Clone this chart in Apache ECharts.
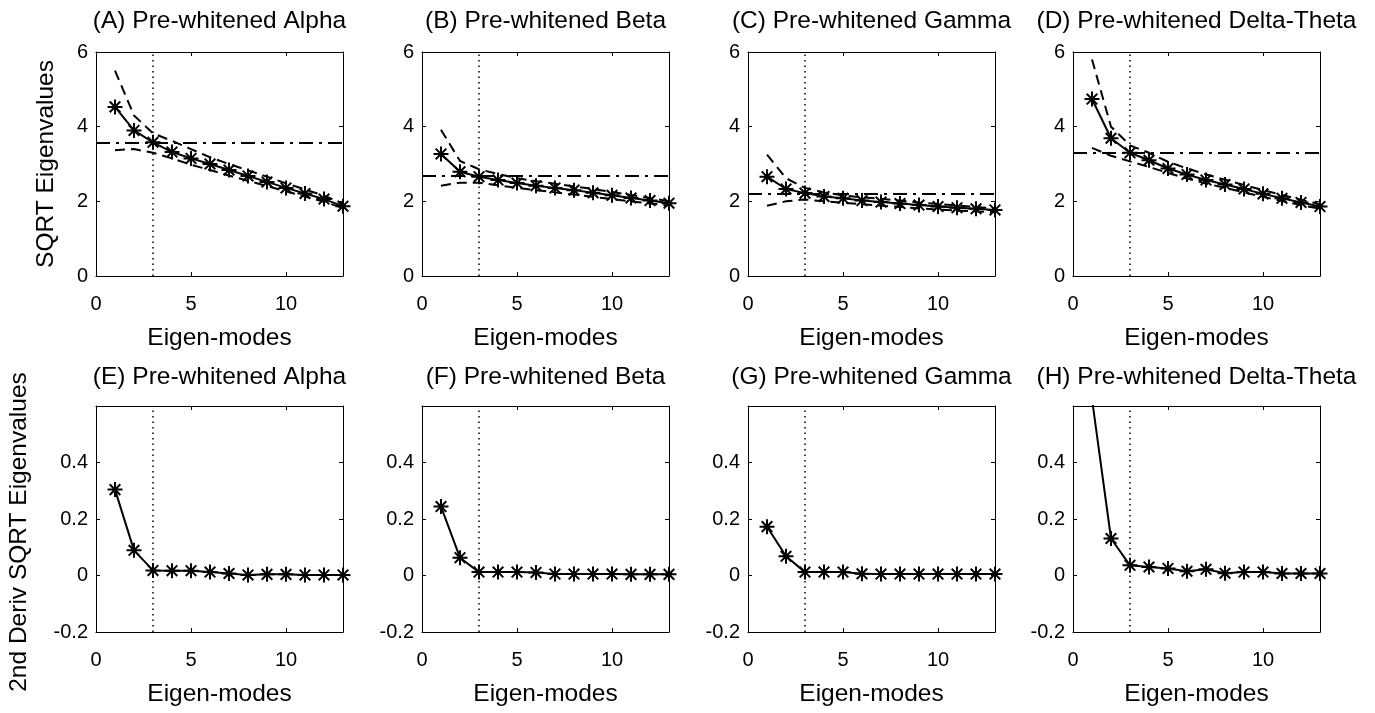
<!DOCTYPE html>
<html>
<head>
<meta charset="utf-8">
<script src="https://cdn.jsdelivr.net/npm/echarts@6/dist/echarts.min.js"></script>
<style>
html,body{margin:0;padding:0;background:#fff;}
#chart{width:1375px;height:713px;}
</style>
</head>
<body>
<div id="chart"></div>
<script>
// ---------- data ----------
const modes = [1,2,3,4,5,6,7,8,9,10,11,12,13];
const xTicks = [0,5,10];
const topYTicks = [0,2,4,6];
const bottomYTicks = [-0.2,0,0.2,0.4];

const topTitles = ['(A) Pre-whitened Alpha','(B) Pre-whitened Beta','(C) Pre-whitened Gamma','(D) Pre-whitened Delta-Theta'];
const bottomTitles = ['(E) Pre-whitened Alpha','(F) Pre-whitened Beta','(G) Pre-whitened Gamma','(H) Pre-whitened Delta-Theta'];

const alphaEig  = [4.53,3.90,3.58,3.32,3.15,3.00,2.84,2.68,2.52,2.36,2.21,2.06,1.87];
const alphaUp   = [5.50,4.30,3.82,3.62,3.40,3.18,3.00,2.83,2.66,2.48,2.32,2.15,1.94];
const alphaLow  = [3.37,3.40,3.30,3.15,2.98,2.84,2.69,2.55,2.41,2.27,2.13,1.99,1.82];

const betaEig   = [3.27,2.79,2.66,2.57,2.49,2.42,2.36,2.30,2.23,2.16,2.09,2.02,1.95];
const betaUp    = [3.92,3.08,2.86,2.73,2.62,2.54,2.47,2.40,2.33,2.25,2.17,2.09,2.00];
const betaLow   = [2.42,2.50,2.50,2.43,2.36,2.30,2.24,2.18,2.12,2.06,2.00,1.94,1.89];

const gammaEig  = [2.66,2.33,2.22,2.13,2.08,2.02,1.98,1.94,1.90,1.86,1.83,1.80,1.77];
const gammaUp   = [3.25,2.62,2.36,2.24,2.16,2.11,2.07,2.02,1.97,1.93,1.89,1.85,1.81];
const gammaLow  = [1.88,2.00,2.05,2.00,1.96,1.92,1.88,1.85,1.81,1.78,1.75,1.73,1.71];

const deltaEig  = [4.74,3.69,3.30,3.10,2.88,2.72,2.57,2.45,2.33,2.20,2.08,1.97,1.86];
const deltaUp   = [5.80,4.00,3.50,3.30,3.06,2.88,2.72,2.58,2.44,2.30,2.17,2.04,1.92];
const deltaLow  = [3.43,3.22,3.07,2.92,2.76,2.61,2.48,2.36,2.24,2.12,2.01,1.90,1.80];

const thresholds = [3.57, 2.68, 2.20, 3.30];
const cutoffModes = [3, 3, 3, 3];

const alphaDeriv = [0.304,0.089,0.018,0.017,0.017,0.012,0.007,0.002,0.004,0.004,0.002,0.002,0.002];
const betaDeriv  = [0.244,0.063,0.012,0.012,0.012,0.011,0.005,0.005,0.005,0.005,0.004,0.004,0.004];
const gammaDeriv = [0.173,0.068,0.012,0.012,0.012,0.006,0.005,0.005,0.005,0.005,0.005,0.005,0.005];
const deltaDeriv = [0.625,0.131,0.036,0.030,0.025,0.015,0.022,0.008,0.012,0.012,0.007,0.007,0.007];

const topMain = [alphaEig, betaEig, gammaEig, deltaEig];
const topUp = [alphaUp, betaUp, gammaUp, deltaUp];
const topLow = [alphaLow, betaLow, gammaLow, deltaLow];
const bottomMain = [alphaDeriv, betaDeriv, gammaDeriv, deltaDeriv];

// ---------- layout ----------
const FONT = '"Liberation Sans", Arial, Helvetica, sans-serif';
const lefts = [96, 422, 748, 1073];
const W = 247;
const rows = [{top: 52, h: 224}, {top: 406, h: 226}];
const star = 'path://M0,-10L0,10M-10,0L10,0M-7.07,-7.07L7.07,7.07M-7.07,7.07L7.07,-7.07';

const grids = [], xAxes = [], yAxes = [], series = [], titles = [];

function pairs(vals){ return modes.map((m,k)=>[m, vals[k]]); }

for (let r = 0; r < 2; r++) {
  for (let c = 0; c < 4; c++) {
    const i = r*4 + c;
    grids.push({left: lefts[c], top: rows[r].top, width: W, height: rows[r].h, containLabel: false});
    titles.push({
      text: r === 0 ? topTitles[c] : bottomTitles[c],
      left: lefts[c] + W/2, top: r === 0 ? 9 : 365, textAlign: 'center', padding: 0,
      textStyle: {fontFamily: FONT, fontSize: 24.5, fontWeight: 'normal', color: '#000'}
    });
    const xMin = xTicks[0], xMax = 13, xInt = xTicks[1]-xTicks[0];
    const yT = r === 0 ? topYTicks : bottomYTicks;
    const yMin = yT[0], yInt = +(yT[1]-yT[0]).toFixed(3), yMax = r === 0 ? 6 : 0.6;
    const common = {
      type: 'value', gridIndex: i, splitLine: {show: false},
      axisLine: {show: true, onZero: false, lineStyle: {color: '#000', width: 1}},
      axisTick: {show: true, inside: true, length: 4, lineStyle: {color: '#000'}}
    };
    xAxes.push(Object.assign({}, common, {
      position: 'bottom', min: xMin, max: xMax, interval: xInt,
      name: 'Eigen-modes', nameLocation: 'middle', nameGap: 50,
      nameTextStyle: {fontFamily: FONT, fontSize: 24.5, color: '#000'},
      axisLabel: {show: true, showMaxLabel: false, margin: 18, fontFamily: FONT, fontSize: 20, color: '#000'}
    }));
    xAxes.push(Object.assign({}, common, {
      position: 'top', min: xMin, max: xMax, interval: xInt, axisLabel: {show: false}
    }));
    const yLeft = Object.assign({}, common, {
      position: 'left', min: yMin, max: yMax, interval: yInt,
      axisLabel: {show: true, showMaxLabel: r === 0, margin: 8, fontFamily: FONT, fontSize: 20, color: '#000'}
    });
    if (c === 0) {
      yLeft.name = r === 0 ? 'SQRT Eigenvalues' : '2nd Deriv SQRT Eigenvalues';
      yLeft.nameLocation = 'middle';
      yLeft.nameGap = r === 0 ? 37 : 64;
      yLeft.nameTextStyle = {fontFamily: FONT, fontSize: 24.5, color: '#000', padding: r === 0 ? 0 : [0, 26, 0, 0]};
    }
    yAxes.push(yLeft);
    yAxes.push(Object.assign({}, common, {
      position: 'right', min: yMin, max: yMax, interval: yInt, axisLabel: {show: false}
    }));

    const xi = 2*i, yi = 2*i;
    const markData = [{xAxis: cutoffModes[c], lineStyle: {type: [1.5, 4], width: 1.5, color: '#000'}}];
    if (r === 0) markData.push({yAxis: thresholds[c], lineStyle: {type: [14, 6, 3, 6], width: 2, color: '#000'}});

    if (r === 0) {
      [topUp[c], topLow[c]].forEach(arr => series.push({
        type: 'line', xAxisIndex: xi, yAxisIndex: yi, data: pairs(arr),
        symbol: 'none', lineStyle: {color: '#000', width: 2, type: [10, 6]}, silent: true, z: 2
      }));
    }
    series.push({
      type: 'line', xAxisIndex: xi, yAxisIndex: yi,
      data: pairs(r === 0 ? topMain[c] : bottomMain[c]),
      symbol: star, symbolSize: 15, symbolKeepAspect: true, showSymbol: true,
      itemStyle: {color: 'rgba(0,0,0,0)', borderColor: '#000', borderWidth: 2},
      lineStyle: {color: '#000', width: 2}, clip: true, z: 3,
      markLine: {silent: true, symbol: ['none','none'], label: {show: false}, data: markData, animation: false}
    });
  }
}

const chart = echarts.init(document.getElementById('chart'), null, {renderer: 'canvas'});
chart.setOption({
  animation: false,
  backgroundColor: '#fff',
  title: titles,
  grid: grids,
  xAxis: xAxes,
  yAxis: yAxes,
  series: series
});
</script>
</body>
</html>
